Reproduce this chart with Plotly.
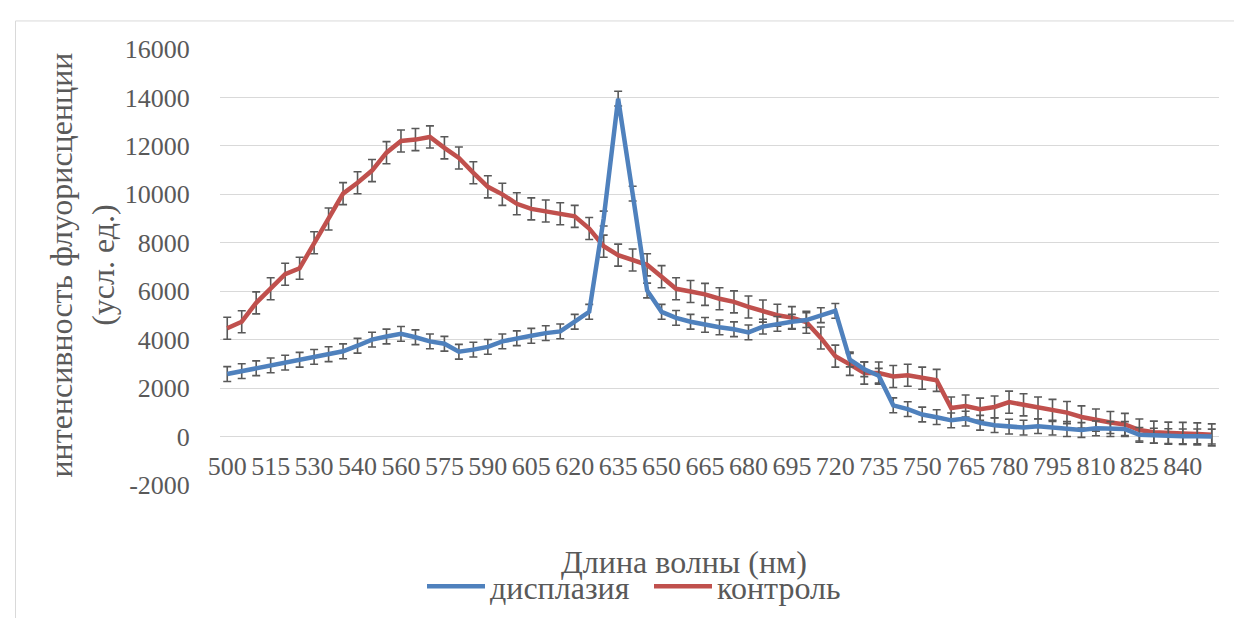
import plotly.graph_objects as go

# ---------------- data ----------------
wavelengths = ["500", "505", "510", "515", "520", "525", "530", "533", "537", "540",
               "547", "553", "560", "565", "570", "575", "580", "585", "590", "595",
               "600", "605", "610", "615", "620", "625", "630", "635", "640", "645",
               "650", "655", "660", "665", "670", "675", "680", "685", "690", "695",
               "703", "712", "720", "725", "730", "735", "740", "745", "750", "755",
               "760", "765", "770", "775", "780", "785", "790", "795", "800", "805",
               "810", "815", "820", "825", "830", "835", "840", "845", "850"]

tick_labels = ["500", "515", "530", "540", "560", "575", "590", "605", "620", "635",
               "650", "665", "680", "695", "720", "735", "750", "765", "780", "795",
               "810", "825", "840"]

dysplasia = [2580, 2700, 2820, 2940, 3050, 3170, 3290, 3400, 3520, 3750,
             4000, 4130, 4240, 4100, 3930, 3830, 3500, 3590, 3700, 3930,
             4060, 4160, 4270, 4340, 4740, 5150, 9000, 13950, 10030, 6030,
             5150, 4900, 4740, 4610, 4510, 4430, 4300, 4540, 4650, 4740,
             4810, 5010, 5190, 3180, 2780, 2510, 1290, 1130, 910, 800,
             670, 740, 570, 470, 410, 370, 430, 370, 310, 270,
             340, 310, 310, 70, 40, 20, 10, 10, 0]

control = [4470, 4740, 5520, 6100, 6700, 6950, 8000, 8980, 10030, 10480,
           10980, 11720, 12200, 12260, 12370, 11920, 11500, 10890, 10310, 10000,
           9610, 9400, 9310, 9200, 9090, 8590, 7860, 7490, 7290, 7090,
           6600, 6100, 5990, 5870, 5690, 5560, 5350, 5180, 5010, 4910,
           4720, 4070, 3320, 2980, 2620, 2620, 2480, 2530, 2410, 2320,
           1180, 1260, 1130, 1220, 1420, 1310, 1180, 1080, 990, 810,
           680, 580, 500, 270, 180, 140, 130, 110, 70]

err_dysplasia = 305
err_control = 455

y_ticks = [-2000, 0, 2000, 4000, 6000, 8000, 10000, 12000, 14000, 16000]
y_tick_text = ["-2000", "0", "2000", "4000", "6000", "8000", "10000", "12000",
               "14000", "16000"]

# ---------------- layout geometry ----------------
W, H = 1242, 618
ML, MR, MT, MB = 212, 31, 41, 134
PW, PH = W - ML - MR, H - MT - MB


def px_x(px):
    return (px - ML) / PW


def px_y(py):
    return (H - MB - py) / PH


FONT = "Liberation Serif, DejaVu Serif, serif"
GREY = "#595959"

fig = go.Figure()

fig.add_trace(go.Scatter(
    x=wavelengths, y=control, name="контроль", mode="lines",
    line=dict(color="#C0504D", width=4.5),
    error_y=dict(type="constant", value=err_control, color=GREY,
                 thickness=1.6, width=4),
    legendrank=2,
))
fig.add_trace(go.Scatter(
    x=wavelengths, y=dysplasia, name="дисплазия", mode="lines",
    line=dict(color="#4F81BD", width=4.5),
    error_y=dict(type="constant", value=err_dysplasia, color=GREY,
                 thickness=1.6, width=4),
    legendrank=1,
))

fig.update_layout(
    width=W, height=H,
    margin=dict(l=ML, r=MR, t=MT, b=MB, pad=0),
    paper_bgcolor="white", plot_bgcolor="white",
    font=dict(family=FONT, color=GREY, size=26),
    showlegend=True,
    legend=dict(
        orientation="h", x=px_x(414), y=px_y(587), xanchor="left", yanchor="middle",
        font=dict(family=FONT, size=32, color=GREY),
        entrywidth=154, entrywidthmode="pixels",
        itemwidth=58, bgcolor="rgba(0,0,0,0)", tracegroupgap=0,
    ),
    xaxis=dict(
        type="category", categoryorder="array", categoryarray=wavelengths,
        range=[-0.5, len(wavelengths) - 0.5],
        tickmode="array", tickvals=tick_labels, ticktext=tick_labels,
        showgrid=False, zeroline=False, showline=False,
        anchor="free", position=(0 - y_ticks[0]) / (y_ticks[-1] - y_ticks[0]),
        ticks="outside", ticklen=6, tickcolor="rgba(0,0,0,0)",
        tickfont=dict(family=FONT, size=26, color=GREY),
        tickangle=0,
    ),
    yaxis=dict(
        range=[y_ticks[0], y_ticks[-1]],
        tickmode="array", tickvals=y_ticks, ticktext=y_tick_text,
        showgrid=True, gridcolor="#D9D9D9", gridwidth=1,
        zeroline=True, zerolinecolor="#D9D9D9", zerolinewidth=1,
        showline=False,
        ticks="outside", ticklen=24, tickcolor="rgba(0,0,0,0)",
        tickfont=dict(family=FONT, size=26, color=GREY),
    ),
    annotations=[
        dict(text="интенсивность флуорисценции<br>(усл. ед.)",
             xref="paper", yref="paper", x=px_x(74), y=px_y(261),
             xanchor="center", yanchor="middle", textangle=-90,
             showarrow=False, font=dict(family=FONT, size=32, color=GREY)),
        dict(text="Длина волны (нм)",
             xref="paper", yref="paper", x=px_x(676), y=px_y(562),
             xanchor="center", yanchor="middle",
             showarrow=False, font=dict(family=FONT, size=32, color=GREY)),
    ],
    shapes=[
        dict(type="rect", xref="paper", yref="paper",
             x0=px_x(7.5), x1=px_x(1232), y0=px_y(640), y1=px_y(12.5),
             line=dict(color="#D9D9D9", width=1), fillcolor="rgba(0,0,0,0)",
             layer="below"),
    ],
)

fig.write_html("out.html")
